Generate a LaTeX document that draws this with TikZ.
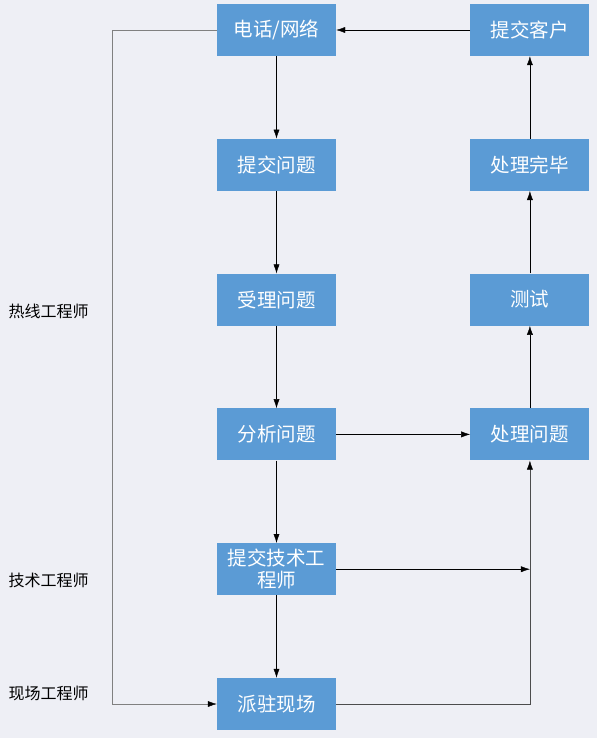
\documentclass[tikz,border=0pt]{standalone}
\usepackage{fontspec}
\setmainfont{Noto Sans CJK SC}
\usetikzlibrary{positioning,arrows.meta,calc}
\definecolor{boxblue}{HTML}{5B9BD5}
\definecolor{bgcolor}{HTML}{EEEFF5}

\begin{document}
\begin{tikzpicture}[
    x=1pt, y=1pt,
    node distance=82.4pt and 134pt,
    box/.style={rectangle, fill=boxblue, text=white, minimum width=119pt, minimum height=52pt, text width=112pt, align=center, inner sep=0pt, font=\fontsize{19.5}{22}\selectfont},
    arrow/.style={-{Latex[length=9pt, width=6pt, color=black]}, thin},
    role/.style={anchor=west, font=\fontsize{16}{19}\selectfont}
]
    \fill[bgcolor] (0,0) rectangle (597,-738);
    \useasboundingbox (0,0) rectangle (597,-738);

    % Left column
    \node[box] (phone) at (276.5,-30) {电话/网络};
    \node[box, below=of phone] (submit) {提交问题};
    \node[box, below=of submit] (accept) {受理问题};
    \node[box, below=of accept] (analyse) {分析问题};
    \node[box, below=of analyse] (tech) {提交技术工\\程师};
    \node[box, below=of tech] (onsite) {派驻现场};

    % Right column
    \node[box, right=of phone] (client) {提交客户};
    \node[box, right=of submit] (done) {处理完毕};
    \node[box, right=of accept] (test) {测试};
    \node[box, right=of analyse] (handle) {处理问题};

    % Roles
    \node[role] (hotline) at (5,-311) {热线工程师};
    \node[role] (techrole) at (5,-580) {技术工程师};
    \node[role] (siterole) at (5,-693) {现场工程师};

    % Arrows
    \draw[arrow] (phone) -- (submit);
    \draw[arrow] (submit) -- (accept);
    \draw[arrow] (accept) -- (analyse);
    \draw[arrow] (analyse) -- (tech);
    \draw[arrow] (tech) -- (onsite);

    \draw[arrow] (analyse) -- (handle);
    \draw[arrow] (handle) -- (test);
    \draw[arrow] (test) -- (done);
    \draw[arrow] (done) -- (client);
    \draw[arrow] (client) -- (phone);

    \coordinate (loop) at (112,-30);
    \draw[arrow, draw=gray] (phone.west) -- (loop) |- (onsite.west);

    \coordinate (join) at (handle.south |- tech.east);
    \draw[arrow] (tech.east) -- (join);
    \draw[arrow, draw=black!70] (onsite.east) -| (handle.south);
\end{tikzpicture}
\end{document}
